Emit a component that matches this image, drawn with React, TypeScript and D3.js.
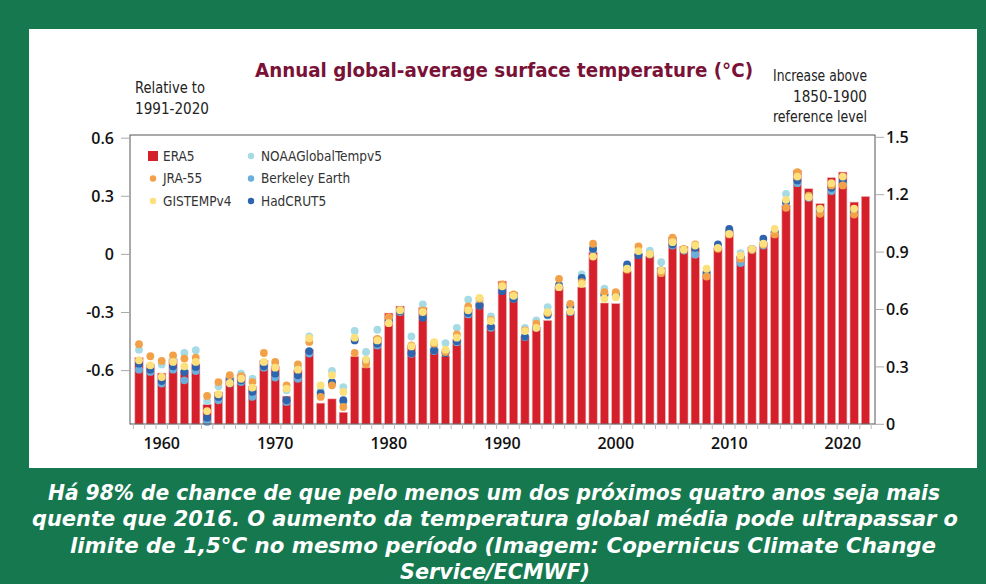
import React from "react";
import * as d3 from "d3";

const years: number[] = d3.range(1958, 2023);

const era5: number[] = [
  -0.533, -0.568, -0.613, -0.539, -0.599, -0.565, -0.774, -0.711, -0.633, -0.620,
  -0.681, -0.547, -0.578, -0.732, -0.596, -0.492, -0.768, -0.746, -0.815, -0.527,
  -0.585, -0.427, -0.303, -0.267, -0.470, -0.275, -0.487, -0.525, -0.439, -0.281,
  -0.250, -0.367, -0.138, -0.195, -0.423, -0.378, -0.341, -0.165, -0.294, -0.169,
  0.012, -0.251, -0.254, -0.088, 0.004, -0.010, -0.069, 0.089, 0.041, 0.033,
  -0.100, 0.034, 0.127, -0.010, 0.038, 0.063, 0.103, 0.253, 0.434, 0.339,
  0.262, 0.396, 0.425, 0.270, 0.299,
];

const jra55: (number | null)[] = [
  -0.464, -0.526, -0.550, -0.521, -0.538, -0.533, -0.731, -0.659, -0.624, -0.629,
  -0.659, -0.509, -0.555, -0.676, -0.568, -0.452, -0.736, -0.676, -0.788, -0.509,
  -0.568, -0.436, -0.324, -0.286, -0.470, -0.289, -0.461, -0.504, -0.413, -0.269,
  -0.229, -0.338, -0.155, -0.207, -0.393, -0.358, -0.303, -0.126, -0.255, -0.143,
  0.055, -0.195, -0.195, -0.079, 0.041, 0.000, -0.097, 0.086, 0.029, 0.051,
  -0.114, 0.029, 0.103, -0.023, 0.024, 0.051, 0.103, 0.241, 0.425, 0.304,
  0.210, 0.356, 0.356, 0.206, null,
];

const gistemp: (number | null)[] = [
  -0.547, -0.573, -0.633, -0.555, -0.578, -0.555, -0.809, -0.722, -0.664, -0.642,
  -0.688, -0.555, -0.585, -0.693, -0.595, -0.433, -0.676, -0.624, -0.710, -0.430,
  -0.543, -0.444, -0.355, -0.289, -0.475, -0.298, -0.453, -0.492, -0.430, -0.289,
  -0.224, -0.344, -0.165, -0.214, -0.396, -0.379, -0.298, -0.169, -0.293, -0.152,
  -0.011, -0.229, -0.221, -0.074, 0.017, 0.003, -0.083, 0.063, 0.024, 0.046,
  -0.074, 0.034, 0.106, -0.005, 0.029, 0.055, 0.132, 0.282, 0.402, 0.296,
  0.236, 0.368, 0.402, 0.236, null,
];

const noaa: (number | null)[] = [
  -0.492, -0.578, -0.568, -0.543, -0.509, -0.495, -0.757, -0.681, -0.642, -0.616,
  -0.642, -0.564, -0.573, -0.702, -0.581, -0.423, -0.702, -0.602, -0.685, -0.395,
  -0.504, -0.389, -0.332, -0.286, -0.424, -0.258, -0.479, -0.458, -0.379, -0.234,
  -0.241, -0.320, -0.169, -0.221, -0.379, -0.341, -0.272, -0.155, -0.264, -0.103,
  0.038, -0.177, -0.203, -0.066, 0.007, 0.020, -0.040, 0.055, 0.024, 0.000,
  -0.100, 0.041, 0.115, 0.007, 0.024, 0.063, 0.115, 0.313, 0.373, 0.296,
  0.227, 0.330, 0.365, 0.218, null,
];

const berkeley: (number | null)[] = [
  -0.595, -0.607, -0.667, -0.595, -0.650, -0.602, -0.865, -0.753, -0.667, -0.659,
  -0.736, -0.585, -0.636, -0.762, -0.642, -0.512, -0.728, -0.667, -0.762, -0.435,
  -0.555, -0.470, -0.338, -0.298, -0.513, -0.324, -0.499, -0.504, -0.453, -0.310,
  -0.264, -0.379, -0.183, -0.229, -0.427, -0.379, -0.315, -0.169, -0.298, -0.126,
  0.024, -0.212, -0.212, -0.066, 0.000, 0.000, -0.086, 0.046, 0.020, 0.000,
  -0.100, 0.041, 0.115, -0.045, 0.024, 0.046, 0.115, 0.265, 0.368, 0.292,
  0.218, 0.327, 0.368, 0.213, null,
];

const hadcrut: (number | null)[] = [
  -0.564, -0.595, -0.654, -0.578, -0.607, -0.581, -0.843, -0.736, -0.650, -0.650,
  -0.710, -0.578, -0.616, -0.753, -0.624, -0.499, -0.716, -0.659, -0.753, -0.444,
  -0.547, -0.461, -0.341, -0.293, -0.510, -0.327, -0.496, -0.510, -0.448, -0.303,
  -0.264, -0.372, -0.190, -0.229, -0.424, -0.375, -0.310, -0.160, -0.269, -0.121,
  0.029, -0.207, -0.207, -0.052, -0.005, 0.000, -0.083, 0.051, 0.024, 0.034,
  -0.091, 0.051, 0.132, -0.014, 0.029, 0.081, 0.115, 0.270, 0.382, 0.304,
  0.227, 0.344, 0.378, 0.218, null,
];

const leftTicks: number[] = [-0.6, -0.3, 0, 0.3, 0.6];
const leftTickLabels: string[] = ["-0.6", "-0.3", "0", "0.3", "0.6"];
const rightTicks: number[] = [0, 0.3, 0.6, 0.9, 1.2, 1.5];
const rightTickLabels: string[] = ["0", "0.3", "0.6", "0.9", "1.2", "1.5"];
const xTickYears: number[] = [1960, 1970, 1980, 1990, 2000, 2010, 2020];

const captionLines: string[] = [
  "Há 98% de chance de que pelo menos um dos próximos quatro anos seja mais",
  "quente que 2016. O aumento da temperatura global média pode ultrapassar o",
  "limite de 1,5°C no mesmo período (Imagem: Copernicus Climate Change",
  "Service/ECMWF)",
];

const dotSeries = [
  { name: "NOAAGlobalTempv5", values: noaa, color: "#a6dbe5" },
  { name: "Berkeley Earth", values: berkeley, color: "#6aaedb" },
  { name: "HadCRUT5", values: hadcrut, color: "#2c65ae" },
  { name: "JRA-55", values: jra55, color: "#f3a148" },
  { name: "GISTEMPv4", values: gistemp, color: "#fbe07c" },
];

const legendItems = [
  { name: "ERA5", color: "#d5202b", bar: true, col: 0, row: 0 },
  { name: "JRA-55", color: "#f3a148", bar: false, col: 0, row: 1 },
  { name: "GISTEMPv4", color: "#fbe07c", bar: false, col: 0, row: 2 },
  { name: "NOAAGlobalTempv5", color: "#a6dbe5", bar: false, col: 1, row: 0 },
  { name: "Berkeley Earth", color: "#6aaedb", bar: false, col: 1, row: 1 },
  { name: "HadCRUT5", color: "#2c65ae", bar: false, col: 1, row: 2 },
];

export default function App() {
  const W = 986;
  const H = 584;
  const plotL = 130;
  const plotR = 875;
  const plotT = 135;
  const plotB = 424;

  const x = d3.scaleLinear().domain([1958, 2022]).range([139, 865.5]);
  const step = x(1959) - x(1958);
  const barW = 8.3;
  const yL = d3.scaleLinear().domain([-0.6, 0.6]).range([370.6, 138.2]);
  const yR = d3.scaleLinear().domain([0, 1.5]).range([424.3, 137.3]);

  const tickFont = "'Open Sans', 'Noto Sans', sans-serif";
  const labelFont = "'Liberation Sans Narrow', 'DejaVu Sans Condensed', 'Roboto', sans-serif";
  const captionFont = "'DejaVu Sans Condensed', 'Liberation Sans Narrow', sans-serif";

  return (
    <svg width={W} height={H} style={{ position: "absolute", left: 0, top: 0 }}>
      <rect x={0} y={0} width={W} height={H} fill="#15784f" />
      <rect x={29} y={29} width={948} height={439} fill="#ffffff" />

      <text x={504} y={77} textAnchor="middle" fontFamily={labelFont} fontWeight="bold"
        fontSize={19.5} fill="#7a1237" textLength={498} lengthAdjust="spacingAndGlyphs">
        Annual global-average surface temperature (°C)
      </text>

      <g fontFamily={labelFont} fontSize={15} fill="#222">
        <text x={135} y={93} textLength={70} lengthAdjust="spacingAndGlyphs">Relative to</text>
        <text x={135} y={114} textLength={74} lengthAdjust="spacingAndGlyphs">1991-2020</text>
        <text x={867} y={81} textAnchor="end" textLength={94} lengthAdjust="spacingAndGlyphs">Increase above</text>
        <text x={867} y={102} textAnchor="end" textLength={74} lengthAdjust="spacingAndGlyphs">1850-1900</text>
        <text x={867} y={122} textAnchor="end" textLength={94} lengthAdjust="spacingAndGlyphs">reference level</text>
      </g>

      {/* bars */}
      <g>
        {years.map((yr, i) => (
          <rect key={yr} x={x(yr) - barW / 2} y={yL(era5[i])} width={barW}
            height={plotB - yL(era5[i])} fill="#d5202b" stroke="#efb1b1" strokeWidth={0.6} />
        ))}
      </g>

      {/* dots */}
      {dotSeries.map((s) => (
        <g key={s.name}>
          {years.map((yr, i) =>
            s.values[i] === null || s.values[i] === undefined ? null : (
              <circle key={yr} cx={x(yr)} cy={yL(s.values[i] as number)} r={3.9} fill={s.color} />
            )
          )}
        </g>
      ))}

      {/* frame */}
      <rect x={plotL} y={plotT} width={plotR - plotL} height={plotB - plotT} fill="none"
        stroke="#555" strokeWidth={1} />

      {/* left axis */}
      <g fontFamily={tickFont} fontSize={16} fill="#111" fontWeight={600}>
        {leftTicks.map((t, i) => (
          <g key={t}>
            <line x1={121} x2={plotL} y1={yL(t)} y2={yL(t)} stroke="#aaa" strokeWidth={1} />
            <text x={114} y={yL(t)} dy="0.36em" textAnchor="end">{leftTickLabels[i]}</text>
          </g>
        ))}
      </g>

      {/* right axis */}
      <g fontFamily={tickFont} fontSize={16} fill="#111" fontWeight={600}>
        {rightTicks.map((t, i) => (
          <g key={t}>
            <line x1={plotR} x2={884} y1={yR(t)} y2={yR(t)} stroke="#aaa" strokeWidth={1} />
            <text x={886} y={yR(t)} dy="0.36em" textAnchor="start">{rightTickLabels[i]}</text>
          </g>
        ))}
      </g>

      {/* x axis ticks */}
      <g>
        {d3.range(1958, 2024).map((yr) => (
          <line key={yr} x1={x(yr) - step / 2} x2={x(yr) - step / 2} y1={plotB} y2={plotB + 5}
            stroke="#bbb" strokeWidth={1} />
        ))}
      </g>
      <g fontFamily={tickFont} fontSize={16} fill="#111" fontWeight={600}>
        {xTickYears.map((yr) => (
          <text key={yr} x={x(yr)} y={449} textAnchor="middle">{yr}</text>
        ))}
      </g>

      {/* legend */}
      <g fontFamily={labelFont} fontSize={13.5} fill="#333">
        {legendItems.map((it) => {
          const lx = it.col === 0 ? 153 : 251;
          const ly = 156 + it.row * 22.5;
          return (
            <g key={it.name}>
              {it.bar ? (
                <rect x={lx - 5} y={ly - 5} width={10} height={10} fill={it.color} />
              ) : (
                <circle cx={lx} cy={ly} r={3.2} fill={it.color} />
              )}
              <text x={lx + 10} y={ly} dy="0.36em">{it.name}</text>
            </g>
          );
        })}
      </g>

      {/* caption */}
      <g fontFamily={captionFont} fontSize={22} fontWeight="bold" fontStyle="italic" fill="#ffffff">
        <text x={494} y={500} textAnchor="middle" textLength={892} lengthAdjust="spacingAndGlyphs">{captionLines[0]}</text>
        <text x={495} y={526} textAnchor="middle" textLength={926} lengthAdjust="spacingAndGlyphs">{captionLines[1]}</text>
        <text x={503} y={553} textAnchor="middle" textLength={866} lengthAdjust="spacingAndGlyphs">{captionLines[2]}</text>
        <text x={495} y={579} textAnchor="middle" textLength={190} lengthAdjust="spacingAndGlyphs">{captionLines[3]}</text>
      </g>
    </svg>
  );
}
